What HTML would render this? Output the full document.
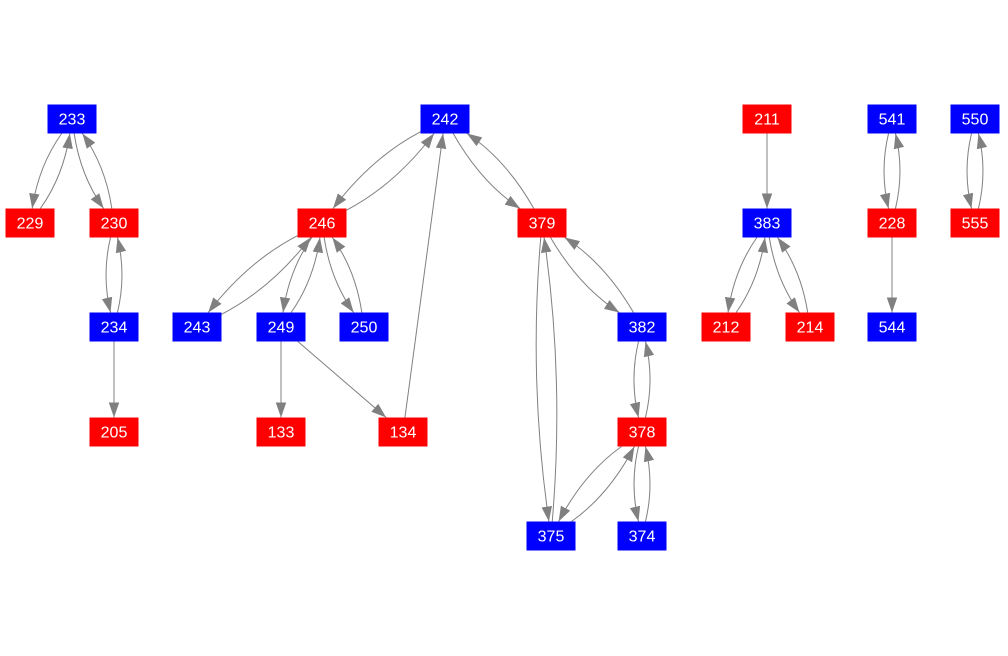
<!DOCTYPE html>
<html><head><meta charset="utf-8"><style>
html,body{margin:0;padding:0;background:#fff;}
svg{display:block;}
text{font-family:"Liberation Sans",Arial,sans-serif;font-size:16px;fill:#fff;text-anchor:middle;dominant-baseline:central;}
</style></head><body>
<svg id="s" width="1008" height="656" viewBox="0 0 1008 656" xmlns="http://www.w3.org/2000/svg">
<defs><marker id="a" viewBox="0 0 10 10" refX="10" refY="5" markerWidth="15" markerHeight="15" markerUnits="userSpaceOnUse" orient="auto"><path d="M0,1.5 L10,5 L0,8.5 z" fill="#808080"/></marker></defs>
<g id="e"></g><g id="n"></g>
</svg>
<script>
var N={233:[72,119,'b'],229:[30,223,'r'],230:[114,223,'r'],234:[114,327,'b'],205:[114,432,'r'],
242:[445,119,'b'],246:[322,223,'r'],379:[542,223,'r'],243:[197,327,'b'],249:[281,327,'b'],250:[364,327,'b'],
133:[281,432,'r'],134:[403,432,'r'],382:[642,327,'b'],378:[642,432,'r'],375:[551,536,'b'],374:[642,536,'b'],
211:[767,119,'r'],383:[767,223,'b'],212:[726,327,'r'],214:[810,327,'r'],
541:[892,119,'b'],228:[892,223,'r'],544:[892,327,'b'],550:[975,119,'b'],555:[975,223,'r']};
var E=[[233,229],[229,233],[233,230],[230,233],[230,234],[234,230],[234,205],
[242,246],[246,242],[242,379],[379,242],[246,243],[243,246],[246,249],[249,246],[246,250],[250,246],
[249,133],[249,134],[134,242],[379,375],[375,379],[379,382],[382,379],[382,378],[378,382],
[378,375],[375,378],[378,374],[374,378],[211,383],[383,212],[212,383],[383,214],[214,383],
[541,228],[228,541],[228,544],[550,555],[555,550]];
var W=24.5,H=14.5;
function bnd(p,d){var dx=d[0]-p[0],dy=d[1]-p[1];var t=Math.min(dx?W/Math.abs(dx):1e9,dy?H/Math.abs(dy):1e9);return [p[0]+dx*t,p[1]+dy*t];}
var has={};E.forEach(function(e){has[e[0]+'-'+e[1]]=1;});
var g='';
E.forEach(function(e){var A=N[e[0]],B=N[e[1]];var mx=(A[0]+B[0])/2,my=(A[1]+B[1])/2;
var dx=B[0]-A[0],dy=B[1]-A[1],L=Math.hypot(dx,dy);var k=has[e[1]+'-'+e[0]]?Math.min(18,L*0.12):0;
var C=[mx+(-dy/L)*k,my+(dx/L)*k];
var s=bnd(A,C),t=bnd(B,C);
g+='<path d="M'+s[0]+','+s[1]+' Q'+C[0]+','+C[1]+' '+t[0]+','+t[1]+'" fill="none" stroke="#808080" stroke-width="1" marker-end="url(#a)"/>';});
document.getElementById('e').innerHTML=g;
var h='';for(var k in N){var p=N[k];h+='<rect x="'+(p[0]-W)+'" y="'+(p[1]-H)+'" width="'+(2*W)+'" height="'+(2*H)+'" fill="'+(p[2]=='b'?'#0000ff':'#ff0000')+'"/><text x="'+p[0]+'" y="'+(p[1]+1)+'">'+k+'</text>';}
document.getElementById('n').innerHTML=h;
</script>
</body></html>
